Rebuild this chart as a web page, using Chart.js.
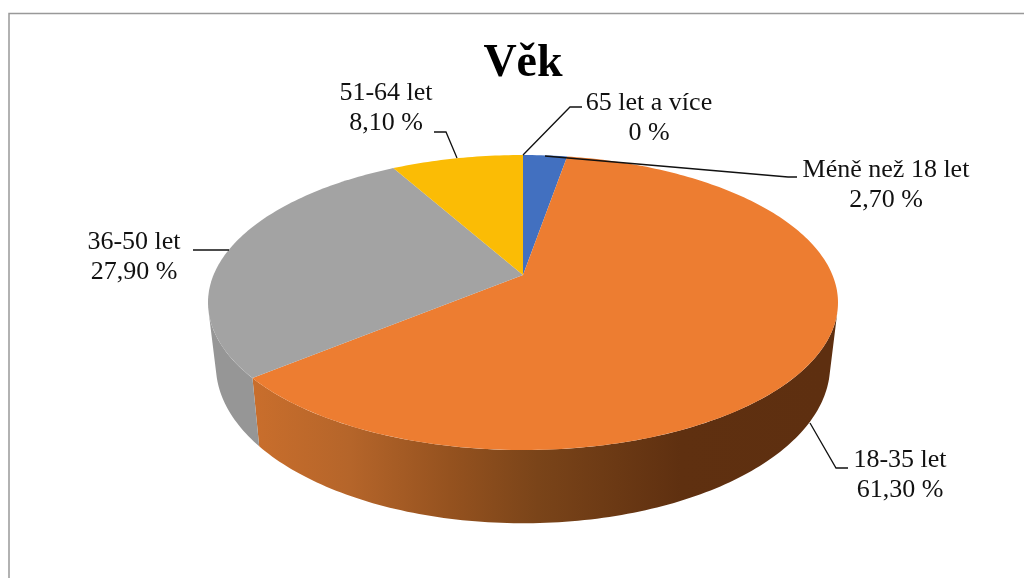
<!DOCTYPE html>
<html>
<head>
<meta charset="utf-8">
<style>
  html, body { margin: 0; padding: 0; background: #fff; }
  canvas { display: block; }
</style>
<script src="https://cdn.jsdelivr.net/npm/chart.js@4/dist/chart.umd.js"></script>
</head>
<body>
<canvas id="chart" width="1024" height="578"></canvas>
<script>
const categories = ['Méně než 18 let', '18-35 let', '36-50 let', '51-64 let', '65 let a více']
const shares = [2.7, 61.3, 27.9, 8.1, 0]
const shareLabels = ['2,70 %', '61,30 %', '27,90 %', '8,10 %', '0 %']
const sliceColors = ['#4270C0', '#ED7D31', '#A3A3A3', '#FBBC05', '#5B9BD5']

// wall shading runs left to right across the front of the pie
const wallStops = {
  1: [[0, '#C96E2C'], [0.17, '#B5652A'], [0.345, '#95521F'], [0.5, '#7A4419'], [0.75, '#5F3010'], [1, '#5E2F10']],
  2: [[0, '#969696'], [1, '#8A8A8A']]
}

// label centres and leader lines, in canvas pixels
const labelBoxes = [
  { x: 886, y: 170, line: [[545, 156], [788, 177], [797, 177]] },
  { x: 900, y: 460, line: [[810, 423], [836, 468], [848, 468]] },
  { x: 134, y: 242, line: [[229, 250], [193, 250]] },
  { x: 386, y: 93, line: [[457, 158], [446, 132], [434, 132]] },
  { x: 649, y: 103, line: [[523, 155], [570, 107], [582, 107]] }
]

// the pie is tilted with perspective, so the apex sits above the middle of the ellipse
const halfWidth = 309.5
const halfHeight = 142.4
const tilt = 0.186
const wallDrop = 61
const wallScaleX = 0.975
const wallScaleY = 1.07
// rulings at these angles form the left and right outline of the wall
const wallFrom = Math.asin(0.25)
const wallTo = Math.PI - wallFrom

function topPoint(cx, cy, angle) {
  const u = Math.cos(angle)
  const v = Math.sin(angle)
  const d = 1 - tilt * v
  return [cx + halfWidth * u / d, cy + halfHeight * v / d]
}

function wallPoint(cx, cy, angle) {
  const p = topPoint(cx, cy, angle)
  return [cx + (p[0] - cx) * wallScaleX, cy + wallDrop + (p[1] - cy) * wallScaleY]
}

function drawWall(ctx, cx, cy, arc, stops) {
  const from = Math.max(arc.startAngle, wallFrom)
  const to = Math.min(arc.endAngle, wallTo)
  if (to <= from) return
  const grad = ctx.createLinearGradient(cx - 270, 0, cx + 300, 0)
  stops.forEach(s => grad.addColorStop(s[0], s[1]))
  ctx.fillStyle = grad
  const count = Math.ceil((to - from) / (Math.PI / 180))
  ctx.beginPath()
  for (let i = 0; i <= count; i++) {
    const p = topPoint(cx, cy, from + (to - from) * i / count)
    i ? ctx.lineTo(p[0], p[1]) : ctx.moveTo(p[0], p[1])
  }
  for (let i = count; i >= 0; i--) {
    const p = wallPoint(cx, cy, from + (to - from) * i / count)
    ctx.lineTo(p[0], p[1])
  }
  ctx.closePath()
  ctx.fill()
}

function drawTop(ctx, cx, cy, arc) {
  const step = Math.PI / 180
  ctx.fillStyle = arc.options.backgroundColor
  ctx.beginPath()
  ctx.moveTo(cx, cy)
  for (let a = arc.startAngle; a < arc.endAngle; a += step) {
    const p = topPoint(cx, cy, a)
    ctx.lineTo(p[0], p[1])
  }
  const last = topPoint(cx, cy, arc.endAngle)
  ctx.lineTo(last[0], last[1])
  ctx.closePath()
  ctx.fill()
}

const tiltedPie = {
  id: 'tiltedPie',
  beforeDraw(chart) {
    const ctx = chart.ctx
    ctx.save()
    ctx.fillStyle = '#fff'
    ctx.fillRect(0, 0, chart.width, chart.height)
    ctx.strokeStyle = '#999'
    ctx.lineWidth = 1.5
    ctx.beginPath()
    ctx.moveTo(9, chart.height)
    ctx.lineTo(9, 13.5)
    ctx.lineTo(chart.width, 13.5)
    ctx.stroke()
    ctx.restore()
  },
  beforeDatasetDraw(chart, args) {
    const ctx = chart.ctx
    const arcs = chart.getDatasetMeta(args.index).data
    const cx = arcs[0].x
    const cy = arcs[0].y
    ctx.save()
    arcs.forEach((arc, i) => {
      if (wallStops[i]) drawWall(ctx, cx, cy, arc, wallStops[i])
    })
    arcs.forEach(arc => {
      if (arc.endAngle > arc.startAngle) drawTop(ctx, cx, cy, arc)
    })
    ctx.restore()
    return false
  },
  afterDraw(chart) {
    const ctx = chart.ctx
    ctx.save()
    ctx.strokeStyle = '#111'
    ctx.lineWidth = 1.3
    ctx.fillStyle = '#111'
    ctx.font = '26px "Liberation Serif"'
    ctx.textAlign = 'center'
    ctx.textBaseline = 'middle'
    labelBoxes.forEach((box, i) => {
      ctx.beginPath()
      box.line.forEach((p, j) => j ? ctx.lineTo(p[0], p[1]) : ctx.moveTo(p[0], p[1]))
      ctx.stroke()
      ctx.fillText(categories[i], box.x, box.y)
      ctx.fillText(shareLabels[i], box.x, box.y + 30)
    })
    ctx.restore()
  }
}

new Chart(document.getElementById('chart'), {
  type: 'pie',
  data: {
    labels: categories,
    datasets: [{ data: shares, backgroundColor: sliceColors, borderWidth: 0 }]
  },
  options: {
    responsive: false,
    animation: false,
    layout: { padding: { left: 22, top: 37, bottom: 120 } },
    plugins: {
      legend: { display: false },
      tooltip: { enabled: false },
      title: {
        display: true,
        text: 'Věk',
        color: '#000',
        padding: 0,
        font: { family: '"Liberation Serif"', size: 46, weight: 'bold' }
      }
    }
  },
  plugins: [tiltedPie]
})
</script>
</body>
</html>
